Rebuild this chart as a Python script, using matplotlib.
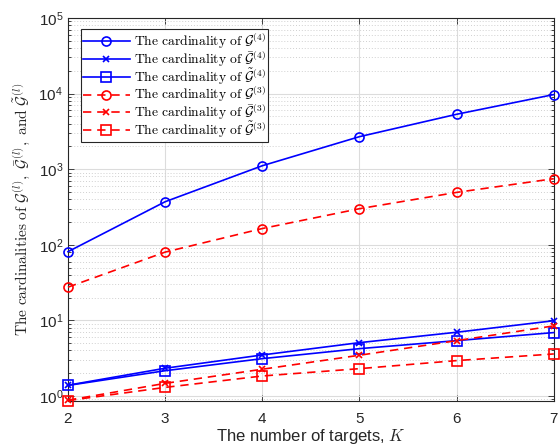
import numpy as np
import matplotlib
matplotlib.use('Agg')
import matplotlib.pyplot as plt

plt.rcParams['font.family'] = ['Liberation Sans', 'DejaVu Sans']
plt.rcParams['mathtext.fontset'] = 'cm'

# Number of targets
K = [2, 3, 4, 5, 6, 7]

# Cardinalities for l = 4
card_G4 = [81, 371, 1110, 2690, 5320, 9700]
card_Gbar4 = [1.39, 2.33, 3.49, 5.08, 6.97, 9.9]
card_Gtil4 = [1.38, 2.16, 3.12, 4.23, 5.4, 6.9]

# Cardinalities for l = 3
card_G3 = [27.5, 80, 164, 300, 493, 748]
card_Gbar3 = [0.88, 1.47, 2.26, 3.46, 5.4, 8.46]
card_Gtil3 = [0.87, 1.30, 1.84, 2.30, 2.94, 3.6]

series = [
    (card_G4, 'b', '-', 'o', r'$\mathrm{The\ cardinality\ of\ }\mathcal{G}^{(4)}$'),
    (card_Gbar4, 'b', '-', 'x', r'$\mathrm{The\ cardinality\ of\ }\bar{\mathcal{G}}^{(4)}$'),
    (card_Gtil4, 'b', '-', 's', r'$\mathrm{The\ cardinality\ of\ }\tilde{\mathcal{G}}^{(4)}$'),
    (card_G3, 'r', '--', 'o', r'$\mathrm{The\ cardinality\ of\ }\mathcal{G}^{(3)}$'),
    (card_Gbar3, 'r', '--', 'x', r'$\mathrm{The\ cardinality\ of\ }\bar{\mathcal{G}}^{(3)}$'),
    (card_Gtil3, 'r', '--', 's', r'$\mathrm{The\ cardinality\ of\ }\tilde{\mathcal{G}}^{(3)}$'),
]

fig = plt.figure(figsize=(5.6, 4.48), dpi=100)
ax = fig.add_axes([0.1214, 0.105, 0.8676, 0.855])

for vals, col, ls, mk, lab in series:
    ms = 5 if mk == 'x' else 6.5
    line, = ax.plot(K, vals, color=col, linestyle=ls, marker=mk, markersize=ms,
                    markerfacecolor='none', markeredgewidth=1.2, linewidth=1.2,
                    label=lab, clip_on=False, zorder=3)
    if ls == '--':
        line.set_dashes((5, 3.5))

ax.set_yscale('log')
ax.set_xlim(2, 7)
ax.set_ylim(0.86, 1e5)
ax.set_xticks(K)
ax.set_yticks([1, 10, 100, 1e3, 1e4, 1e5])

# MATLAB-like grid: solid major lines, dotted minor lines on the log axis
ax.grid(True, which='major', color='#dcdcdc', linewidth=0.8, linestyle='-')
ax.grid(True, which='minor', axis='y', color='#d0d0d0', linewidth=0.7, linestyle=(0, (1, 2)))
ax.set_axisbelow(True)

ax.tick_params(which='both', direction='in', top=True, right=True, labelsize=11,
               colors='#262626', width=0.6)
ax.tick_params(which='major', length=4.5)
ax.tick_params(which='minor', length=2.5)
ax.tick_params(axis='x', pad=8.0)
for sp in ax.spines.values():
    sp.set_color('#262626')
    sp.set_linewidth(0.8)

ax.set_xlabel(r'The number of targets, $K$', fontsize=12, color='#262626', labelpad=1)
ax.set_ylabel(r'$\mathrm{The\ cardinalities\ of\ }\mathcal{G}^{(l)},\ \bar{\mathcal{G}}^{(l)},\ \mathrm{and\ }\tilde{\mathcal{G}}^{(l)}$',
              fontsize=11.1, color='#262626', labelpad=5)

leg = ax.legend(loc='upper left', bbox_to_anchor=(0.026, 0.9705), fontsize=9.8,
                handlelength=3.5, handletextpad=0.3, labelspacing=-0.17,
                borderpad=0.15, borderaxespad=0, fancybox=False, framealpha=1)
leg.get_frame().set_edgecolor('#262626')
leg.get_frame().set_linewidth(0.8)

plt.savefig('out.png', dpi=100)
